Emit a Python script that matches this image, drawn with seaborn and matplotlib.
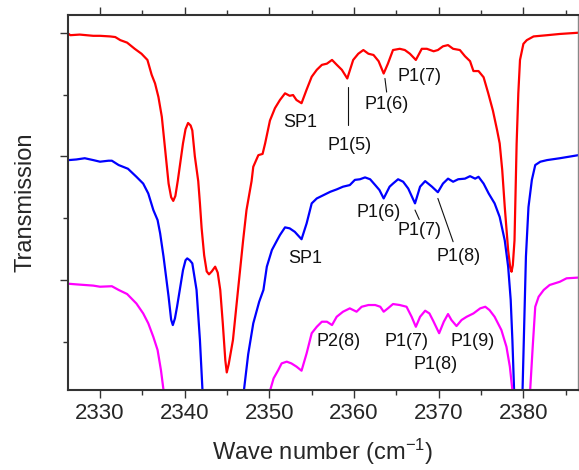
import numpy as np
import pandas as pd
import matplotlib
matplotlib.use("Agg")
import matplotlib.pyplot as plt
from matplotlib.ticker import MultipleLocator, NullFormatter
import seaborn as sns

# Stacked IR transmission spectra (vertically offset)
red_x = [2326.3, 2326.5, 2327.6, 2328.4, 2329.2, 2330.0, 2331.2, 2331.8, 2332.4, 2333.2,
         2334.1, 2334.9, 2335.6, 2336.1, 2336.5, 2336.9, 2337.3, 2337.7, 2338.1, 2338.4,
         2338.65, 2338.9, 2339.2, 2339.8, 2340.1, 2340.4, 2340.7, 2340.9, 2341.2, 2341.6,
         2341.8, 2342.0, 2342.3, 2342.6, 2342.87, 2343.2, 2343.6, 2343.9, 2344.2, 2344.5,
         2344.8, 2344.97, 2345.2, 2345.7, 2346.3, 2346.9, 2347.3, 2347.9, 2348.1, 2348.7,
         2349.2, 2349.5, 2350.07, 2350.66, 2351.25, 2351.85, 2352.4, 2352.8, 2353.2, 2353.8,
         2354.4, 2355.0, 2355.6, 2356.2, 2356.8, 2357.4, 2357.97, 2358.56, 2359.2, 2359.9,
         2360.5, 2361.1, 2361.7, 2362.3, 2362.9, 2363.5, 2364.0, 2364.6, 2365.4, 2366.0,
         2366.6, 2367.3, 2368.0, 2368.6, 2369.4, 2369.9, 2370.5, 2371.1, 2371.7, 2372.5,
         2373.1, 2373.7, 2374.1, 2374.7, 2375.3, 2375.85, 2376.4, 2376.9, 2377.2, 2377.5,
         2377.8, 2378.2, 2378.45, 2378.6, 2378.75, 2378.95, 2379.2, 2379.4, 2379.6, 2380.0,
         2380.4, 2381.2, 2382.8, 2384.3, 2386.5]
red_y = [1.99, 1.98, 1.985, 1.98, 1.975, 1.975, 1.97, 1.965, 1.94, 1.92,
         1.87, 1.83, 1.78, 1.66, 1.59, 1.48, 1.32, 1.05, 0.78, 0.67,
         0.64, 0.68, 0.81, 1.105, 1.22, 1.27, 1.25, 1.21, 1.00, 0.80,
         0.62, 0.42, 0.20, 0.07, 0.046, 0.07, 0.108, 0.06, -0.08, -0.35,
         -0.65, -0.747, -0.68, -0.485, -0.08, 0.32, 0.566, 0.80, 0.916, 1.01,
         1.02, 1.105, 1.29, 1.39, 1.456, 1.51, 1.49, 1.496, 1.456, 1.43,
         1.54, 1.644, 1.70, 1.74, 1.75, 1.78, 1.74, 1.70, 1.63, 1.78,
         1.83, 1.86, 1.83, 1.82, 1.77, 1.67, 1.75, 1.86, 1.87, 1.86,
         1.83, 1.78, 1.87, 1.87, 1.85, 1.86, 1.89, 1.90, 1.87, 1.86,
         1.81, 1.77, 1.69, 1.69, 1.64, 1.51, 1.37, 1.21, 1.105, 0.89,
         0.59, 0.24, 0.10, 0.067, 0.12, 0.32, 1.10, 1.51, 1.78, 1.91,
         1.94, 1.97, 1.98, 1.99, 2.00]

blue_x = [2326.3, 2327.2, 2328.2, 2329.2, 2330.0, 2331.0, 2331.4, 2332.2, 2333.3, 2334.3,
          2335.1, 2335.7, 2336.3, 2336.8, 2337.1, 2337.5, 2338.1, 2338.4, 2338.6, 2338.85,
          2339.1, 2339.8, 2340.1, 2340.3, 2340.6, 2340.9, 2341.4, 2341.8, 2342.1, 2342.6,
          2344.5, 2346.5, 2347.0, 2347.5, 2348.1, 2348.8, 2349.3, 2349.7, 2350.3, 2350.9,
          2351.25, 2351.85, 2352.4, 2353.0, 2353.8, 2354.4, 2355.0, 2355.6, 2356.4, 2357.2,
          2357.95, 2358.7, 2359.5, 2360.1, 2360.7, 2361.3, 2361.9, 2362.5, 2363.0, 2363.5,
          2364.2, 2364.6, 2365.2, 2365.8, 2366.4, 2367.2, 2367.8, 2368.4, 2369.2, 2369.9,
          2370.5, 2371.1, 2371.7, 2372.3, 2373.1, 2373.7, 2374.3, 2374.7, 2375.3, 2375.9,
          2376.6, 2377.2, 2377.8, 2378.2, 2378.5, 2378.7, 2378.9, 2379.1, 2379.5, 2379.8,
          2379.9, 2380.05, 2380.3, 2380.6, 2381.0, 2381.4, 2382.0, 2382.8, 2384.3, 2386.5]
blue_y = [0.97, 0.975, 0.985, 0.97, 0.957, 0.965, 0.965, 0.93, 0.90, 0.835,
          0.78, 0.70, 0.566, 0.485, 0.378, 0.19, -0.135, -0.32, -0.364, -0.31,
          -0.215, 0.08, 0.16, 0.175, 0.16, 0.135, -0.08, -0.485, -0.89, -1.4,
          -1.8, -1.4, -0.89, -0.60, -0.35, -0.175, -0.08, 0.108, 0.243, 0.32,
          0.364, 0.426, 0.418, 0.39, 0.33, 0.458, 0.62, 0.66, 0.687, 0.714,
          0.733, 0.755, 0.768, 0.81, 0.815, 0.83, 0.815, 0.768, 0.728, 0.66,
          0.755, 0.78, 0.815, 0.795, 0.74, 0.62, 0.755, 0.80, 0.755, 0.71,
          0.78, 0.82, 0.795, 0.815, 0.82, 0.84, 0.82, 0.835, 0.78, 0.70,
          0.62, 0.51, 0.32, 0.108, -0.16, -0.485, -0.89, -1.4, -1.6, -1.3,
          -0.89, -0.485, 0.19, 0.59, 0.81, 0.93, 0.957, 0.97, 0.985, 1.01]

magenta_x = [2326.3, 2327.2, 2328.2, 2329.2, 2330.0, 2331.4, 2332.2, 2333.2, 2334.3, 2335.1,
             2335.7, 2336.3, 2336.8, 2337.2, 2337.5, 2338.0, 2340.0, 2344.0, 2348.0, 2349.6,
             2350.1, 2350.5, 2351.05, 2351.45, 2352.05, 2352.6, 2353.2, 2353.8, 2354.4, 2355.0,
             2355.6, 2356.2, 2356.8, 2357.4, 2357.95, 2358.7, 2359.5, 2360.3, 2360.9, 2361.7,
             2362.5, 2363.1, 2363.5, 2364.0, 2364.6, 2365.4, 2366.2, 2366.8, 2367.3, 2367.8,
             2368.4, 2368.9, 2369.35, 2370.05, 2370.6, 2371.1, 2371.5, 2372.1, 2372.7, 2373.3,
             2374.1, 2374.9, 2375.5, 2376.0, 2376.6, 2377.4, 2378.0, 2378.4, 2378.7, 2379.2,
             2380.3, 2380.8, 2381.1, 2381.4, 2381.8, 2382.4, 2383.1, 2384.3, 2385.1, 2386.5]
magenta_y = [-0.03, -0.035, -0.04, -0.045, -0.054, -0.05, -0.08, -0.113, -0.19, -0.27,
             -0.35, -0.46, -0.566, -0.73, -0.89, -1.3, -1.8, -2.0, -1.8, -1.2,
             -0.89, -0.795, -0.728, -0.674, -0.66, -0.674, -0.70, -0.733, -0.593, -0.43,
             -0.378, -0.337, -0.337, -0.364, -0.297, -0.256, -0.229, -0.256, -0.216, -0.202,
             -0.202, -0.216, -0.256, -0.229, -0.194, -0.202, -0.216, -0.297, -0.378, -0.297,
             -0.248, -0.27, -0.33, -0.43, -0.337, -0.275, -0.323, -0.372, -0.323, -0.297,
             -0.27, -0.229, -0.216, -0.243, -0.297, -0.404, -0.54, -0.70, -0.89, -1.5,
             -1.5, -0.89, -0.54, -0.216, -0.135, -0.08, -0.04, -0.014, 0.014, 0.02]

# Band assignments: (text, x, y)
labels = [("SP1", 2353.6, 1.27), ("P1(5)", 2359.5, 1.09), ("P1(6)", 2363.8, 1.42),
          ("P1(7)", 2367.7, 1.65),
          ("SP1", 2354.2, 0.174), ("P1(6)", 2362.9, 0.546), ("P1(7)", 2367.7, 0.40),
          ("P1(8)", 2372.4, 0.19),
          ("P2(8)", 2358.2, -0.497), ("P1(7)", 2366.25, -0.497), ("P1(8)", 2369.6, -0.687),
          ("P1(9)", 2374.0, -0.497)]
# Leader lines: (x0, y0, x1, y1)
leaders = [(2359.25, 1.565, 2359.25, 1.25), (2363.65, 1.63, 2363.85, 1.52),
           (2367.2, 0.566, 2367.7, 0.49), (2369.9, 0.66, 2371.7, 0.31)]

sns.set_style("ticks")
plt.rcParams["font.family"] = ["Liberation Sans", "DejaVu Sans"]
plt.rcParams["mathtext.fontset"] = "custom"
plt.rcParams["mathtext.rm"] = "Liberation Sans"
plt.rcParams["mathtext.default"] = "regular"

frames = []
for name, xs, ys in [("red", red_x, red_y), ("blue", blue_x, blue_y), ("magenta", magenta_x, magenta_y)]:
    frames.append(pd.DataFrame({"wn": xs, "T": ys, "series": name}))
df = pd.concat(frames, ignore_index=True)

fig = plt.figure(figsize=(5.79, 4.70), dpi=100)
ax = fig.add_axes([0.117, 0.170, 0.881, 0.798])

sns.lineplot(data=df, x="wn", y="T", hue="series",
             palette={"red": "#ff0000", "blue": "#0000ff", "magenta": "#ff00ff"},
             estimator=None, sort=False, legend=False, lw=1.6, ax=ax)

for text, x, y in labels:
    ax.text(x, y, text, fontsize=13, ha="center", va="center", color="#111111")
for x0, y0, x1, y1 in leaders:
    ax.plot([x0, x1], [y0, y1], color="#111111", lw=0.8)

ax.set_xlim(2326.19, 2386.43)
ax.set_ylim(-0.89, 2.143)
ax.xaxis.set_major_locator(MultipleLocator(10))
ax.xaxis.set_minor_locator(MultipleLocator(5))
ax.yaxis.set_major_locator(MultipleLocator(1))
ax.yaxis.set_minor_locator(MultipleLocator(0.5))
ax.yaxis.set_major_formatter(NullFormatter())
ax.tick_params(which="both", direction="out", top=True, right=True, width=1.0, color="#333333")
ax.tick_params(which="major", length=6, labelsize=16)
ax.tick_params(which="minor", length=3.5)
for s in ax.spines.values():
    s.set_visible(True)
    s.set_linewidth(1.5)
    s.set_color("#333333")
ax.spines["right"].set_linewidth(1.0)
ax.spines["right"].set_color("#888888")

ax.set_xlabel("Wave number (cm$^{-1}$)", fontsize=17, labelpad=9)
ax.set_ylabel("Transmission", fontsize=17, labelpad=13)

fig.savefig("out.png", dpi=100)
